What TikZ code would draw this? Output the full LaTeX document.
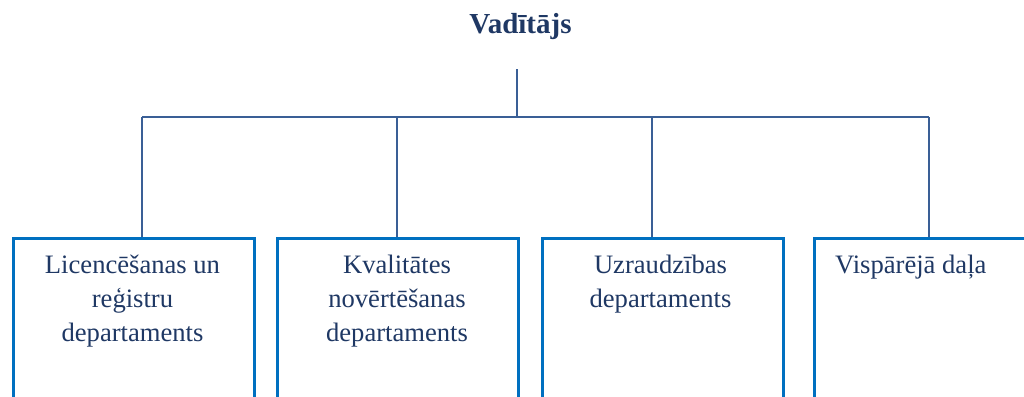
\documentclass[tikz,border=0pt]{standalone}
\usepackage{fontspec}
\setmainfont{Liberation Serif}
\definecolor{txt}{HTML}{1F3864}
\definecolor{con}{HTML}{3A5F96}
\definecolor{bx}{HTML}{0070C0}
\begin{document}
\begin{tikzpicture}[x=1pt,y=-1pt,
  deptbox/.style={draw=bx, line width=2.8pt, minimum width=241pt, minimum height=220pt, anchor=north west, inner sep=0pt},
  conn/.style={draw=con, line width=2.4pt},
  label/.style={text=txt, inner sep=0pt, font=\fontsize{26.6}{34}\selectfont, align=center, anchor=base},
  titlestyle/.style={text=txt, inner sep=0pt, font=\fontsize{29}{34}\selectfont\bfseries, anchor=base}]
\useasboundingbox (0,0) rectangle (1024,396);
\clip (0,0) rectangle (1024,396);
\fill[white] (0,0) rectangle (1024,396);
\node[titlestyle] (t) at (520.5,34) {Vadītājs};
\node[deptbox] (b1) at (12,237) {};
\node[deptbox] (b2) at (276,237) {};
\node[deptbox] (b3) at (541,237) {};
\node[deptbox] (b4) at (813,237) {};
\node[label] (l1) at (132.5,341) {Licencēšanas un\\reģistru\\departaments};
\node[label] (l2) at (397,341) {Kvalitātes\\novērtēšanas\\departaments};
\node[label] (l3) at (660.5,307) {Uzraudzības\\departaments};
\node[label, anchor=base west] (l4) at (835,273) {Vispārējā daļa};
\coordinate (top) at (517,69);
\coordinate (hub) at (517,117);
\coordinate (d1) at (142,117);
\coordinate (d2) at (397,117);
\coordinate (d3) at (652,117);
\coordinate (d4) at (929,117);
\draw[conn] (top) -- (hub);
\draw[conn] (d1) -- (d4);
\draw[conn] (d1) -- (d1 |- b1.north);
\draw[conn] (d2) -- (d2 |- b2.north);
\draw[conn] (d3) -- (d3 |- b3.north);
\draw[conn] (d4) -- (d4 |- b4.north);
\end{tikzpicture}
\end{document}
